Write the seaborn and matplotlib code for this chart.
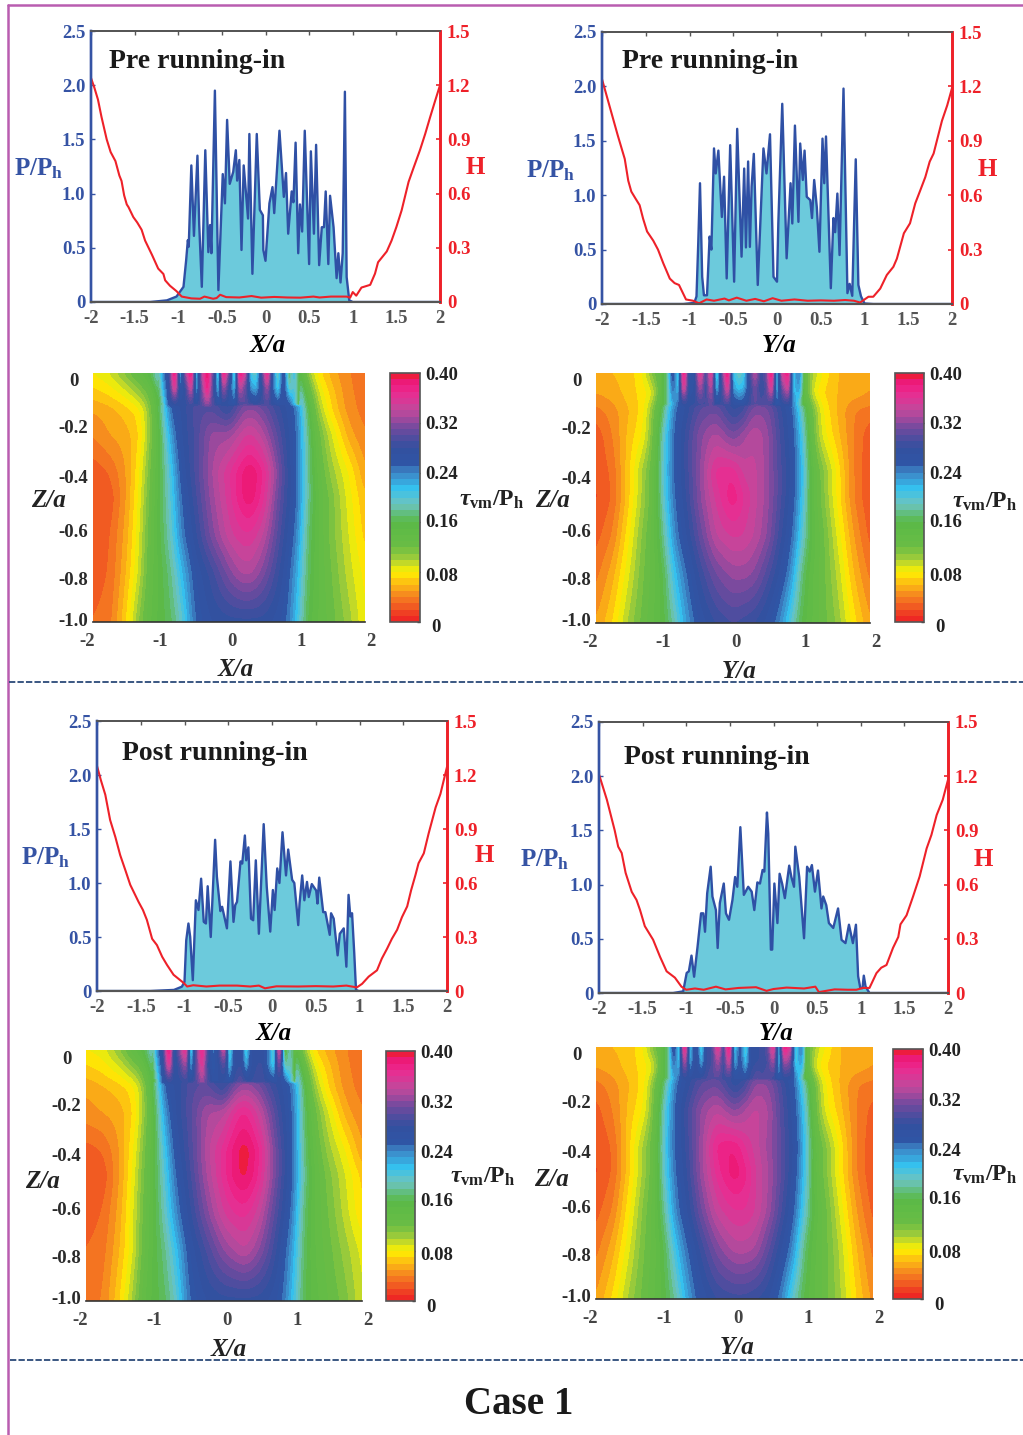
import numpy as np
import matplotlib
matplotlib.use("Agg")
import matplotlib.pyplot as plt
from matplotlib.colors import LinearSegmentedColormap
from matplotlib.lines import Line2D
from matplotlib.transforms import ScaledTranslation
import seaborn as sns

# ---------------- pressure traces ----------------
pre_x_x = [-2,-1.32,-1.13,-1.02,-.94,-.91,-.89,-.88,-.85,-.82,-.78,-.76,-.73,-.69,-.655,-.635,-.62,-.58,-.54,-.49,-.465,-.44,-.41,-.37,-.34,-.325,-.30,-.275,-.25,-.20,-.185,-.15,-.10,-.065,-.03,-.025,0,.045,.08,.10,.16,.21,.235,.26,.30,.32,.345,.375,.395,.42,.45,.50,.52,.555,.58,.615,.645,.67,.69,.72,.74,.78,.815,.835,.86,.885,.91,.93,.96,1.0,2]
pre_x_p = [0,0,.015,.05,.14,.38,.57,.51,1.26,.61,1.35,.72,.14,1.40,.46,.71,.45,1.95,.11,1.18,.91,1.68,1.09,1.20,1.40,1.12,1.31,.48,1.26,.77,1.55,.26,1.55,.85,.80,.48,.38,.91,1.06,.82,1.58,.97,1.19,.63,1.02,.92,1.47,.45,.90,.65,1.58,.35,1.39,.63,1.45,.34,.69,.69,1.02,.35,.98,.69,.22,.45,.18,.45,1.94,.23,.015,0,0]
pre_y_x = [-2,-1.07,-.945,-.92,-.90,-.88,-.855,-.835,-.80,-.77,-.75,-.72,-.70,-.67,-.645,-.63,-.605,-.575,-.535,-.49,-.455,-.405,-.375,-.355,-.33,-.31,-.29,-.265,-.22,-.155,-.12,-.08,-.04,0,.015,.06,.11,.155,.175,.205,.245,.265,.295,.315,.34,.38,.40,.425,.455,.485,.52,.54,.56,.615,.645,.665,.69,.715,.76,.805,.83,.86,.90,.93,.96,1.0,1.1,2]
pre_y_p = [0,0,.01,.07,.56,1.11,.25,.08,.08,.62,.50,1.43,1.20,1.41,1.02,.80,1.17,.235,1.46,.205,1.61,.435,1.245,.52,1.31,.525,1.08,1.38,.175,1.43,1.20,1.56,.25,.205,.74,1.84,.42,1.11,.74,1.64,.755,1.475,1.14,1.41,.985,.955,.79,1.14,.89,.48,1.52,1.11,1.54,.145,.79,.66,1.015,.45,1.98,.10,.185,.075,1.33,.175,.07,.005,0,0]
post_x_x = [-2,-1.39,-1.12,-1.03,-1.0,-.98,-.955,-.935,-.905,-.87,-.84,-.81,-.78,-.755,-.735,-.70,-.65,-.63,-.59,-.57,-.515,-.475,-.44,-.42,-.40,-.36,-.34,-.31,-.295,-.27,-.24,-.215,-.185,-.15,-.095,-.06,-.02,.01,.03,.06,.085,.12,.16,.185,.23,.255,.30,.315,.345,.37,.40,.42,.455,.505,.52,.54,.585,.61,.635,.66,.675,.705,.75,.775,.82,.85,.875,.895,.915,.94,.96,.99,2]
post_x_p = [0,0,.01,.04,.085,.47,.625,.50,.10,.84,.75,1.04,.64,.625,.97,.50,1.40,1.06,.74,.78,.58,1.20,.64,.795,.825,1.20,1.18,1.44,1.21,1.33,.67,.655,1.21,.53,1.545,.965,.55,.935,.75,1.135,1.0,1.47,1.07,1.31,1.03,1.0,.61,.81,1.07,.84,1.01,.87,.99,.93,.81,1.05,.73,.73,.625,.52,.72,.67,.33,.53,.58,.225,.89,.69,.72,.35,.01,0,0]
post_y_x = [-2,-1.15,-1.035,-.995,-.97,-.94,-.91,-.87,-.83,-.805,-.785,-.76,-.72,-.70,-.66,-.64,-.615,-.57,-.545,-.51,-.47,-.44,-.415,-.38,-.34,-.29,-.25,-.22,-.185,-.155,-.125,-.105,-.075,-.06,-.03,-.015,.01,.045,.07,.10,.13,.18,.205,.235,.25,.295,.35,.385,.415,.44,.475,.51,.55,.57,.605,.635,.685,.74,.78,.825,.865,.91,.945,.97,.995,1.02,1.035,1.055,1.10,2]
post_y_p = [0,0,.015,.185,.20,.345,.15,.43,.735,.735,.565,.92,1.165,.89,.765,.415,.83,1.01,.735,.675,.86,1.07,.98,1.53,.905,.98,.935,.765,1.02,1.01,1.135,1.12,1.665,1.47,.40,.40,1.01,.645,1.10,1.005,.875,1.175,1.07,.98,1.35,1.07,.505,1.165,1.12,1.18,.935,1.13,.78,.89,.81,.645,.60,.78,.49,.46,.63,.46,.63,.155,.045,.045,.16,.06,0,0]

# ---------------- film thickness traces ----------------
pre_x_hx = [-2,-1.96,-1.92,-1.88,-1.82,-1.775,-1.72,-1.675,-1.65,-1.62,-1.59,-1.57,-1.515,-1.47,-1.42,-1.38,-1.33,-1.30,-1.23,-1.17,-1.15,-1.095,-1.02,-.96,-.85,-.75,-.70,-.6,-.56,-.52,-.45,-.3,-.16,-.05,.1,.25,.4,.55,.62,.75,.93,.97,1.0,1.04,1.1,1.2,1.255,1.29,1.39,1.445,1.5,1.56,1.64,1.695,1.77,1.83,1.885,1.94,2]
pre_x_h = [1.24,1.184,1.12,1.025,.90,.83,.78,.70,.67,.59,.54,.525,.47,.44,.40,.34,.29,.26,.185,.155,.12,.09,.06,.03,.02,.018,.03,.018,.022,.04,.027,.025,.033,.024,.028,.025,.024,.03,.025,.03,.03,.024,.055,.035,.08,.095,.157,.22,.28,.34,.415,.507,.665,.74,.84,.93,1.02,1.107,1.2]
pre_y_hx = [-2,-1.91,-1.82,-1.74,-1.70,-1.665,-1.615,-1.57,-1.53,-1.485,-1.415,-1.36,-1.30,-1.225,-1.17,-1.12,-1.04,-.96,-.89,-.805,-.72,-.6,-.55,-.46,-.35,-.25,-.15,-.05,.05,.2,.35,.5,.65,.78,.88,.95,1.045,1.10,1.18,1.255,1.33,1.37,1.45,1.52,1.58,1.64,1.695,1.745,1.79,1.885,1.945,2]
pre_y_h = [1.24,1.085,.93,.80,.68,.62,.58,.545,.47,.40,.35,.30,.225,.14,.115,.105,.025,.018,.004,.025,.018,.03,.02,.035,.018,.028,.015,.032,.018,.025,.018,.02,.018,.022,.018,.008,.04,.04,.085,.16,.205,.25,.39,.445,.555,.63,.70,.785,.83,1.01,1.095,1.19]
post_x_hx = [-2,-1.955,-1.905,-1.85,-1.79,-1.735,-1.675,-1.62,-1.525,-1.475,-1.43,-1.37,-1.315,-1.255,-1.2,-1.125,-1.01,-.97,-.9,-.75,-.6,-.4,-.25,-.15,-.08,.05,.3,.5,.7,.85,.97,1.03,1.105,1.2,1.255,1.315,1.37,1.43,1.485,1.545,1.59,1.64,1.675,1.735,1.79,1.87,1.925,2]
post_x_h = [1.25,1.17,1.09,.95,.855,.755,.67,.59,.495,.45,.395,.29,.255,.19,.145,.09,.045,.025,.032,.025,.03,.03,.025,.03,.015,.026,.025,.027,.025,.03,.02,.04,.08,.115,.18,.235,.29,.34,.41,.47,.56,.645,.71,.765,.875,1.02,1.095,1.245]
post_y_hx = [-2,-1.91,-1.82,-1.78,-1.74,-1.695,-1.625,-1.57,-1.53,-1.475,-1.38,-1.30,-1.225,-1.13,-1.055,-1.0,-.9,-.8,-.66,-.55,-.4,-.2,-.08,0,.15,.35,.48,.52,.7,.85,.95,1.025,1.10,1.18,1.235,1.295,1.37,1.43,1.455,1.525,1.60,1.675,1.755,1.81,1.87,1.94,2]
post_y_h = [1.21,1.07,.90,.81,.775,.665,.56,.515,.46,.37,.295,.20,.12,.085,.035,.018,.025,.018,.035,.02,.028,.032,.012,.022,.03,.025,.035,.005,.02,.018,.018,.028,.028,.11,.14,.155,.25,.31,.38,.43,.535,.645,.80,.875,.985,1.07,1.18]

# ---------------- stress fields ----------------
field_x = [-2,-1.75,-1.5,-1.3,-1.15,-1,-.85,-.7,-.5,-.25,0,.15,.3,.5,.7,.85,1,1.15,1.3,1.5,1.75,2]
field_z = [0,-.08,-.15,-.25,-.4,-.5,-.65,-.8,-1]
pre_x_field = [
 [.08,.09,.115,.14,.155,.22,.27,.27,.28,.28,.27,.28,.29,.28,.27,.26,.17,.105,.075,.055,.04,.035],
 [.065,.072,.085,.105,.125,.175,.265,.275,.29,.295,.265,.28,.30,.29,.275,.265,.215,.14,.09,.065,.042,.035],
 [.05,.055,.065,.075,.11,.17,.255,.27,.295,.30,.275,.31,.325,.31,.285,.27,.245,.165,.105,.07,.045,.035],
 [.04,.05,.055,.07,.11,.16,.23,.27,.29,.325,.325,.34,.355,.335,.30,.275,.25,.175,.125,.09,.055,.04],
 [.022,.03,.05,.08,.12,.16,.205,.26,.29,.33,.358,.375,.392,.372,.32,.28,.25,.18,.135,.105,.08,.05],
 [.02,.022,.05,.085,.125,.16,.20,.25,.285,.325,.355,.375,.39,.365,.31,.28,.25,.18,.14,.115,.085,.06],
 [.022,.028,.055,.09,.13,.16,.19,.24,.275,.315,.345,.355,.36,.34,.30,.27,.24,.17,.14,.115,.09,.065],
 [.025,.03,.06,.095,.135,.155,.175,.215,.26,.285,.315,.33,.335,.315,.285,.26,.225,.165,.14,.12,.095,.075],
 [.03,.035,.07,.115,.14,.155,.165,.19,.25,.27,.275,.275,.275,.275,.265,.25,.21,.155,.14,.125,.105,.08]]
post_x_field = [
 [.08,.085,.11,.14,.155,.215,.27,.27,.28,.28,.27,.28,.29,.28,.27,.26,.17,.105,.07,.055,.04,.035],
 [.065,.072,.085,.105,.125,.18,.265,.275,.29,.295,.265,.28,.30,.29,.275,.265,.215,.14,.09,.065,.042,.035],
 [.052,.058,.065,.075,.105,.165,.26,.27,.295,.305,.275,.315,.33,.315,.285,.27,.245,.165,.105,.07,.045,.035],
 [.045,.05,.055,.07,.105,.155,.235,.27,.295,.33,.335,.36,.375,.345,.305,.275,.25,.17,.125,.09,.055,.04],
 [.025,.03,.05,.08,.115,.155,.21,.26,.29,.335,.365,.385,.398,.375,.32,.285,.25,.175,.135,.105,.08,.05],
 [.02,.022,.05,.085,.12,.155,.20,.25,.285,.33,.365,.385,.395,.37,.32,.285,.25,.18,.14,.115,.09,.065],
 [.025,.03,.055,.09,.125,.155,.19,.235,.275,.315,.35,.36,.365,.345,.305,.275,.24,.17,.14,.12,.095,.07],
 [.03,.035,.06,.09,.13,.155,.175,.21,.26,.29,.32,.33,.34,.32,.29,.26,.225,.165,.14,.125,.105,.085],
 [.035,.04,.07,.105,.14,.155,.165,.19,.25,.27,.275,.275,.275,.275,.265,.25,.21,.16,.145,.13,.115,.09]]
pre_y_field = [
 [.06,.06,.065,.08,.12,.145,.22,.27,.28,.28,.26,.27,.28,.28,.26,.24,.145,.10,.08,.06,.055,.05],
 [.05,.055,.065,.075,.085,.16,.22,.27,.285,.29,.265,.27,.29,.29,.265,.245,.16,.085,.07,.06,.055,.05],
 [.035,.045,.06,.075,.115,.175,.25,.27,.30,.31,.275,.285,.32,.315,.28,.26,.19,.12,.08,.06,.04,.035],
 [.022,.04,.065,.08,.12,.20,.255,.28,.315,.335,.31,.325,.34,.325,.285,.265,.21,.125,.085,.065,.04,.022],
 [.02,.032,.07,.105,.13,.205,.255,.28,.315,.365,.37,.345,.345,.325,.29,.27,.22,.14,.115,.08,.04,.02],
 [.018,.03,.07,.105,.13,.20,.25,.275,.315,.352,.38,.36,.345,.325,.29,.265,.215,.14,.115,.08,.04,.02],
 [.025,.04,.08,.115,.135,.18,.24,.265,.30,.34,.352,.35,.34,.32,.28,.255,.20,.145,.125,.09,.05,.025],
 [.035,.055,.09,.12,.135,.16,.215,.245,.28,.31,.325,.325,.32,.295,.265,.235,.17,.14,.125,.10,.06,.035],
 [.05,.07,.105,.125,.14,.155,.185,.225,.26,.28,.29,.285,.28,.265,.235,.195,.155,.14,.125,.11,.075,.05]]
post_y_field = [
 [.06,.06,.065,.08,.12,.145,.22,.27,.28,.28,.26,.27,.28,.28,.26,.24,.145,.10,.08,.06,.055,.05],
 [.05,.055,.065,.075,.085,.16,.22,.27,.285,.29,.265,.27,.295,.295,.265,.245,.16,.085,.07,.06,.055,.05],
 [.035,.045,.06,.075,.115,.175,.25,.27,.30,.31,.27,.285,.325,.32,.285,.26,.19,.12,.08,.06,.04,.035],
 [.025,.04,.065,.08,.12,.20,.255,.285,.32,.34,.315,.33,.345,.33,.29,.265,.21,.125,.085,.065,.04,.025],
 [.02,.03,.07,.105,.13,.205,.255,.28,.32,.375,.382,.36,.345,.325,.295,.27,.22,.14,.115,.08,.04,.02],
 [.018,.03,.07,.105,.13,.20,.25,.275,.32,.365,.388,.375,.35,.33,.295,.265,.215,.14,.115,.08,.04,.02],
 [.025,.04,.08,.115,.135,.18,.24,.265,.305,.345,.36,.36,.35,.325,.285,.255,.20,.145,.125,.09,.05,.025],
 [.035,.055,.09,.12,.135,.16,.21,.245,.28,.315,.335,.335,.33,.30,.265,.235,.17,.14,.125,.10,.06,.035],
 [.05,.072,.105,.125,.14,.155,.18,.22,.26,.28,.285,.285,.28,.27,.235,.19,.155,.14,.125,.105,.07,.045]]

strip_x = [-1.04,-.96,-.88,-.80,-.72,-.64,-.56,-.48,-.40,-.32,-.24,-.16,-.08,0,.08,.16,.24,.32,.40,.48,.56,.64,.72,.80,.88,.96,1.04]
strip_z = [0,-.06,-.13]
pre_x_strip = [
 [.17,.24,.28,.395,.21,.32,.395,.20,.33,.395,.30,.19,.39,.30,.18,.39,.34,.20,.19,.28,.38,.25,.18,.27,.16,.21,.14],
 [.16,.22,.27,.36,.25,.28,.35,.22,.31,.38,.29,.21,.33,.27,.21,.34,.30,.23,.22,.27,.33,.25,.20,.27,.19,.20,.14],
 [.145,.19,.26,.27,.275,.275,.285,.275,.295,.32,.295,.265,.27,.265,.26,.29,.30,.285,.28,.285,.29,.275,.265,.27,.26,.21,.14]]
post_x_strip = [
 [.16,.24,.28,.395,.25,.32,.37,.19,.30,.38,.29,.24,.28,.35,.18,.27,.28,.19,.27,.28,.28,.24,.18,.37,.14,.19,.13],
 [.15,.22,.27,.36,.26,.29,.33,.22,.30,.36,.28,.25,.27,.30,.21,.27,.28,.22,.27,.28,.28,.24,.20,.32,.18,.19,.13],
 [.14,.19,.26,.275,.275,.275,.28,.275,.295,.325,.295,.265,.27,.265,.26,.285,.30,.285,.28,.285,.285,.275,.265,.27,.26,.21,.14]]
pre_y_strip = [
 [.15,.17,.27,.19,.395,.25,.27,.37,.28,.37,.18,.30,.395,.21,.19,.20,.28,.34,.28,.30,.395,.20,.35,.385,.20,.25,.14],
 [.15,.17,.25,.21,.36,.26,.27,.33,.28,.34,.21,.28,.36,.23,.21,.22,.27,.31,.28,.29,.36,.21,.31,.35,.21,.23,.14],
 [.145,.175,.22,.25,.27,.275,.28,.285,.29,.30,.275,.285,.285,.27,.265,.265,.285,.30,.295,.295,.28,.255,.27,.275,.24,.19,.135]]
post_y_strip = [
 [.15,.17,.27,.20,.39,.20,.28,.19,.28,.29,.37,.28,.395,.20,.26,.19,.27,.28,.28,.30,.37,.20,.385,.35,.19,.25,.14],
 [.15,.17,.25,.21,.34,.22,.28,.22,.28,.29,.33,.28,.35,.22,.26,.21,.27,.28,.28,.29,.33,.21,.33,.31,.20,.23,.14],
 [.145,.175,.22,.25,.27,.275,.28,.285,.29,.30,.295,.285,.28,.27,.265,.265,.285,.30,.295,.295,.28,.255,.27,.27,.24,.19,.135]]

# ---------------- ticks and colours ----------------
x_ticks = [-2,-1.5,-1,-.5,0,.5,1,1.5,2]
x_tick_labels = ['-2','-1.5','-1','-0.5','0','0.5','1','1.5','2']
p_ticks = [0,.5,1,1.5,2,2.5]
p_tick_labels = ['0','0.5','1.0','1.5','2.0','2.5']
h_ticks = [0,.3,.6,.9,1.2,1.5]
h_tick_labels = ['0','0.3','0.6','0.9','1.2','1.5']
z_ticks = [0,-.2,-.4,-.6,-.8,-1]
z_tick_labels = ['0','-0.2','-0.4','-0.6','-0.8','-1.0']
map_x_ticks = [-2,-1,0,1,2]
cbar_ticks = [0,.08,.16,.24,.32,.40]
cbar_labels = ['0','0.08','0.16','0.24','0.32','0.40']

BLUE, RED, GRAY, FILL = '#3553a4', '#ee2129', '#555555', '#6ccadc'
W, H = 1023, 1435

sns.set_theme(style='white')
plt.rcParams.update({
    'font.family': ['Liberation Serif', 'DejaVu Serif'],
    'font.weight': 'bold',
    'mathtext.fontset': 'custom',
    'mathtext.rm': 'Liberation Serif:bold',
    'mathtext.it': 'Liberation Serif:italic:bold',
    'mathtext.bf': 'Liberation Serif:bold',
})

stress_cmap = LinearSegmentedColormap.from_list('stress', [
    (0/.4, '#ed1c24'), (.02/.4, '#f04e23'), (.04/.4, '#f58220'), (.06/.4, '#fcb814'),
    (.08/.4, '#fff200'), (.10/.4, '#a8cf38'), (.12/.4, '#6abd45'), (.16/.4, '#5ab947'),
    (.19/.4, '#6cc4c0'), (.215/.4, '#35c0ee'), (.24/.4, '#3d86c6'), (.255/.4, '#2f55a5'),
    (.28/.4, '#33509f'), (.31/.4, '#6c4a9e'), (.34/.4, '#c0499c'), (.37/.4, '#ec2a90'),
    (.385/.4, '#ec1a7c'), (.395/.4, '#ed1c40'), (1, '#ed1c30')], N=256)
levels = np.linspace(0, .4, 41)

fig = plt.figure(figsize=(W/100, H/100), dpi=100, facecolor='white')
fine_x = np.linspace(-2, 2, 545)
fine_z = np.linspace(0, -1, 341)


def px_axes(l, t, r, b):
    return fig.add_axes([l/W, 1-b/H, (r-l)/W, (b-t)/H])


def label(x, y, s, size=18, color='black', **kw):
    fig.text(x/W, 1-(y+2)/H, s, fontsize=size, color=color, ha=kw.pop('ha', 'center'),
             va='center', fontweight='bold', **kw)


def shift_labels(labels, dxs, dys):
    for t, dx, dy in zip(labels, dxs, dys):
        t.set_transform(t.get_transform() + ScaledTranslation(dx/100, -dy/100, fig.dpi_scale_trans))


def blur(a, sx, sz):
    # soft rendering of the hand-read grid, so the contour bands are rounded
    for axis, s in ((1, sx), (0, sz)):
        n = int(3*s) + 1
        k = np.exp(-0.5*(np.arange(-n, n+1)/max(s, .01))**2)
        k /= k.sum()
        pad = [(0, 0), (0, 0)]
        pad[axis] = (n, n)
        b = np.pad(a, pad, mode='edge')
        a = np.apply_along_axis(lambda v: np.convolve(v, k, mode='valid'), axis, b)
    return a


def resample(xs, zs, vals):
    vals = np.array(vals)
    zs = np.array(zs)
    by_x = np.array([np.interp(fine_x, xs, row) for row in vals])
    return np.array([np.interp(-fine_z, -zs, by_x[:, j]) for j in range(len(fine_x))]).T


def profile(box, px, pp, hx, hh, title, tx, ty, xname, lab):
    ax = px_axes(*box)
    ax.fill_between(px, pp, 0, color=FILL, lw=0, zorder=1)
    sns.lineplot(x=px, y=pp, ax=ax, color='#2f50a5', lw=1.7, sort=False, estimator=None, zorder=2)
    ax.set_xlim(-2, 2)
    ax.set_ylim(0, 2.5)
    ax.set_xticks(x_ticks, x_tick_labels)
    ax.set_yticks(p_ticks, p_tick_labels)
    ax.tick_params(axis='x', direction='in', length=3, width=1, top=True, color=GRAY,
                   labelcolor=GRAY, labelsize=13.5, pad=6)
    ax.tick_params(axis='y', direction='in', length=3, width=1, color=BLUE,
                   labelcolor=BLUE, labelsize=13.5, pad=4)
    ax.set_xlabel('')
    ax.set_ylabel('')
    tw = ax.twinx()
    sns.lineplot(x=hx, y=hh, ax=tw, color=RED, lw=1.5, sort=False, estimator=None)
    tw.set_ylim(0, 1.5)
    tw.set_yticks(h_ticks, h_tick_labels)
    tw.tick_params(axis='y', direction='in', length=3, width=1.2, color=RED,
                   labelcolor=RED, labelsize=13.5, pad=5)
    tw.set_ylabel('')
    for a in (ax, tw):
        a.spines['top'].set(color=GRAY, lw=1.3, visible=True)
        a.spines['bottom'].set(color=GRAY, lw=1.5, visible=True)
        a.spines['left'].set(color=BLUE, lw=1.7, visible=True)
        a.spines['right'].set(color=RED, lw=1.9, visible=True)
    label(tx, ty, title, size=20, color='#1a1a1a', ha='left')
    label(lab[0], lab[1], r'$\mathrm{P/P_h}$', color=BLUE)
    label(lab[2], lab[3], 'H', color=RED, size=18)
    label(lab[4], lab[5], xname, style='italic')


def stress_map(box, cbox, field, strip, xname, lab):
    ax = px_axes(*box)
    deep = blur(resample(field_x, field_z, field), 8, 6)
    top = resample(strip_x, strip_z, strip)
    inside = (np.abs(fine_x) <= 1.04)[None, :] & (fine_z >= -.13)[:, None]
    merged = blur(np.where(inside, top, deep), 1.8, 1.2)
    merged = np.clip(merged, .0005, .3995)
    cf = ax.contourf(fine_x, fine_z, merged, levels=levels, cmap=stress_cmap)
    ax.set_xlim(-2, 2)
    ax.set_ylim(-1, 0)
    ax.set_xticks(map_x_ticks, ['-2', '-1', '0', '1', '2'])
    ax.set_yticks(z_ticks, z_tick_labels)
    ax.tick_params(axis='x', direction='in', length=3, width=1, color='#333333',
                   labelcolor='#444444', labelsize=13.5, pad=8)
    ax.tick_params(axis='y', length=0, labelcolor='#2a2a2a', labelsize=13.5, pad=14)
    for t in ax.get_yticklabels():
        t.set_ha('center')
    shift_labels(ax.get_xticklabels(), [-6, -1, 3, 4, 6], [0]*5)
    shift_labels(ax.get_yticklabels(), [0]*6, [7, 4, 4, 8, 6, -3])
    for s in ('top', 'left', 'right'):
        ax.spines[s].set_visible(False)
    ax.spines['bottom'].set(color='#333333', lw=1.2, visible=True)
    cax = px_axes(*cbox)
    cb = fig.colorbar(cf, cax=cax, ticks=cbar_ticks)
    cb.ax.set_yticklabels(cbar_labels)
    cb.ax.tick_params(direction='in', length=2, width=1, color='#333333', right=True,
                      labelcolor='#222222', labelsize=13.5, pad=4)
    shift_labels(cb.ax.get_yticklabels(), [6, 0, 0, 0, 0, 0], [4, 2, -2, 0, 0, 1])
    cb.outline.set_edgecolor('#555555')
    cb.outline.set_linewidth(1.2)
    label(lab[0], lab[1], 'Z/a', style='italic', color='#222222')
    label(lab[2], lab[3], xname, style='italic', color='#222222')
    label(lab[4], lab[5], r'$\mathit{\tau}_{\mathrm{vm}}\mathrm{/P_h}$', size=17, color='#222222')


profile((91, 31, 440, 302), pre_x_x, pre_x_p, pre_x_hx, pre_x_h, 'Pre running-in', 109, 59, 'X/a', (39, 167, 475, 166, 268, 344))
profile((602, 32, 952, 304), pre_y_x, pre_y_p, pre_y_hx, pre_y_h, 'Pre running-in', 622, 59, 'Y/a', (551, 169, 987, 168, 779, 343))
profile((97, 721, 447, 991), post_x_x, post_x_p, post_x_hx, post_x_h, 'Post running-in', 122, 752, 'X/a', (46, 856, 484, 854, 274, 1032))
profile((599, 722, 948, 993), post_y_x, post_y_p, post_y_hx, post_y_h, 'Post running-in', 624, 755, 'Y/a', (545, 858, 983, 858, 776, 1031))

stress_map((93, 373, 365, 622), (390, 373, 420, 622), pre_x_field, pre_x_strip, 'X/a', (48, 499, 236, 668, 492, 498))
stress_map((596, 373, 870, 623), (895, 373, 924, 622), pre_y_field, pre_y_strip, 'Y/a', (552, 499, 739, 669, 985, 500))
stress_map((86, 1050, 362, 1301), (386, 1051, 415, 1301), post_x_field, post_x_strip, 'X/a', (42, 1179, 229, 1347, 483, 1175))
stress_map((596, 1047, 873, 1299), (893, 1049, 923, 1299), post_y_field, post_y_strip, 'Y/a', (551, 1177, 737, 1346, 985, 1173))

label(519, 1402, 'Case 1', size=28, color='#1a1a1a')


def rule(x0, y0, x1, y1, **kw):
    fig.add_artist(Line2D([x0/W, x1/W], [1-y0/H, 1-y1/H], transform=fig.transFigure, **kw))


rule(8, 5, 8, H, color='#b95db0', lw=1.8)
rule(8, 5, W, 5, color='#b95db0', lw=1.8)
rule(9, 682, W, 682, color='#2b4a78', lw=1.3, ls=(0, (3.5, 1.2)))
rule(10, 1360, W, 1360, color='#2b4a78', lw=1.3, ls=(0, (3.5, 1.2)))

fig.savefig('out.png', dpi=100, facecolor='white')
